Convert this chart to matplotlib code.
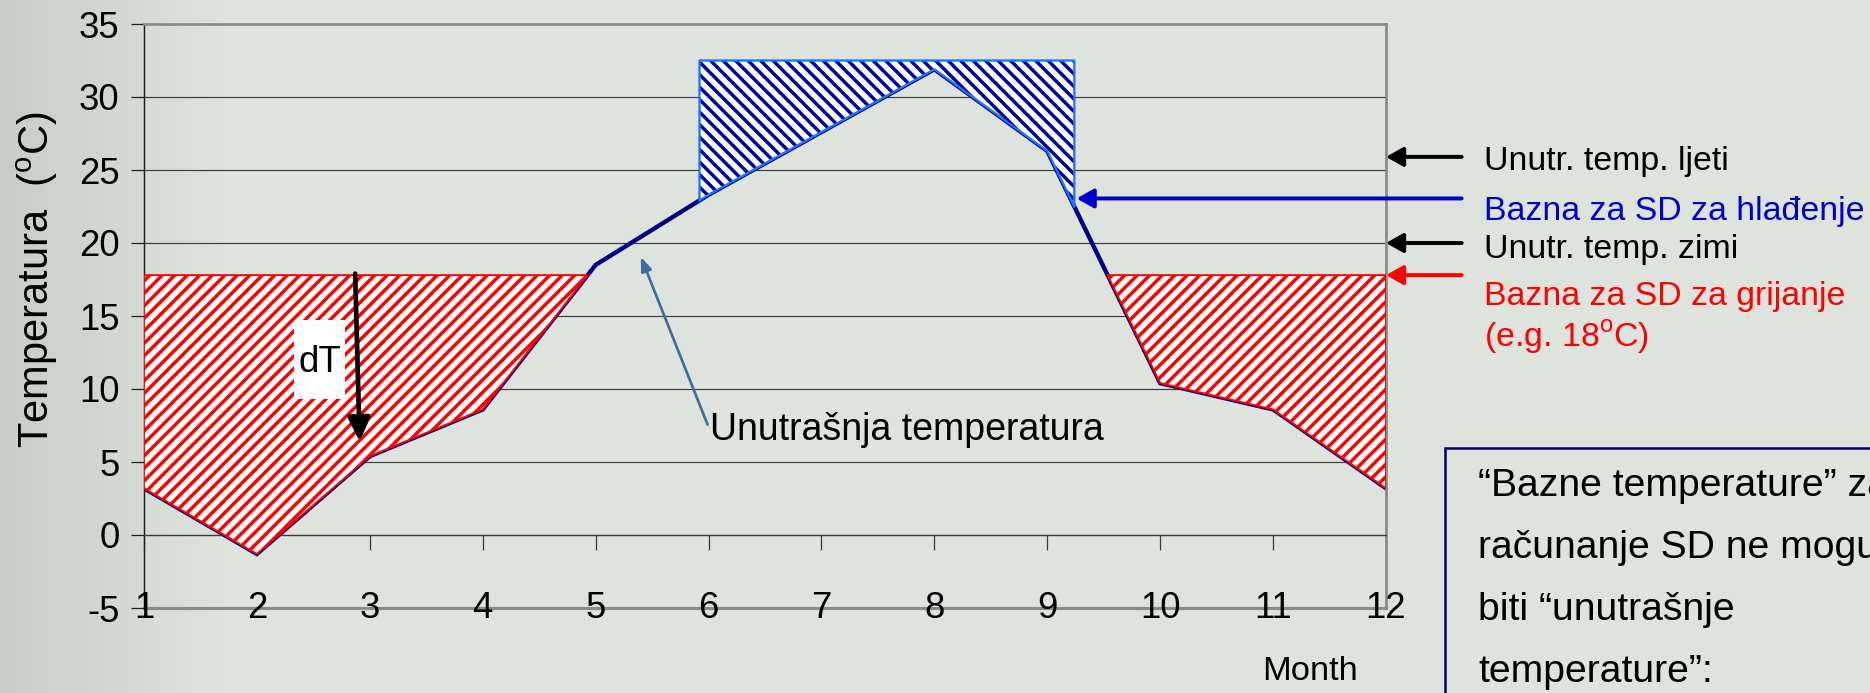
import numpy as np
import matplotlib
matplotlib.use('Agg')
import matplotlib.pyplot as plt
from matplotlib.patches import Rectangle

plt.rcParams['font.family'] = ['Liberation Sans', 'DejaVu Sans']
plt.rcParams['hatch.linewidth'] = 3.3
plt.rcParams['axes.unicode_minus'] = False
plt.rcParams['mathtext.fontset'] = 'custom'
plt.rcParams['mathtext.rm'] = 'Liberation Sans'

# data
months = np.arange(1, 13)
t_out = [3.2, -1.3, 5.4, 8.6, 18.5, 23.3, 27.6, 31.9, 26.3, 10.4, 8.6, 3.2]
heat_base = 17.8
cool_top = 32.5
cool_start, cool_end = 5.92, 9.24
summer_in = 25.9
winter_in = 20.0
cool_base = 23.05

yticks = [-5, 0, 5, 10, 15, 20, 25, 30, 35]
side_labels = ['Unutr. temp. ljeti', 'Bazna za SD za hlađenje', 'Unutr. temp. zimi',
               'Bazna za SD za grijanje', '(e.g. 18$^\\mathregular{o}$C)']
box_lines = ['“Bazne temperature” za', 'računanje SD ne mogu', 'biti “unutrašnje', 'temperature”:']

DPI = 75
fig = plt.figure(figsize=(1870 / DPI, 693 / DPI), dpi=DPI)

# background gradient (darker on the left)
bg = fig.add_axes([0, 0, 1, 1], zorder=-10)
gx = np.clip(np.linspace(0, 1, 400) / 0.12, 0, 1)
c0 = np.array([200, 205, 200]) / 255
c1 = np.array([223, 227, 222]) / 255
grad = c0[None, :] + (c1 - c0)[None, :] * gx[:, None]
bg.imshow(grad[None, :, :], aspect='auto', extent=[0, 1, 0, 1])
bg.axis('off')

ax = fig.add_axes([144 / 1870, 85 / 693, 1242 / 1870, 584 / 693])
ax.patch.set_alpha(0)
ax.set_xlim(1, 12)
ax.set_ylim(-5, 35)

# grid lines
for v in yticks[1:-1]:
    ax.axhline(v, color='#3a3a3a', lw=1.1, zorder=1)

x_fine = np.linspace(1, 12, 2201)
y_fine = np.interp(x_fine, months, t_out)

ax.plot(months, t_out, color='#000080', lw=4.2, zorder=2, solid_joinstyle='miter')

# heating degree-days area
ax.fill_between(x_fine, y_fine, heat_base, where=y_fine <= heat_base, interpolate=True,
                facecolor='white', edgecolor='#ff0000', hatch='//', lw=1.8, zorder=3)

# cooling area
x_cool = np.linspace(cool_start, cool_end, 400)
y_cool = np.interp(x_cool, months, t_out)
ax.fill_between(x_cool, y_cool, cool_top, facecolor='white', edgecolor='#0000a0',
                hatch='\\\\', lw=0, zorder=3)
ax.fill_between(x_cool, y_cool, cool_top, facecolor='none', edgecolor='#1a78ff',
                lw=2.2, zorder=4)

# axes styling
for s in ['top', 'right']:
    ax.spines[s].set_color('#8a8a8a')
    ax.spines[s].set_linewidth(2.6)
ax.spines['left'].set_color('#202020')
ax.spines['left'].set_linewidth(1.4)
ax.spines['bottom'].set_position(('data', 0))
ax.spines['bottom'].set_color('#3a3a3a')
ax.spines['bottom'].set_linewidth(1.2)
ax.axhline(-5, color='#8a8a8a', lw=3, zorder=1, clip_on=False)

ax.set_yticks(yticks)
ax.set_xticks(months)
ax.tick_params(axis='y', direction='out', length=12.5, width=1.2, pad=11, labelsize=35, color='#202020')
ax.tick_params(axis='x', direction='out', length=14, width=1.2, labelbottom=False, color='#3a3a3a')
for m in months:
    ax.text(m, -5, str(m), ha='center', va='center', fontsize=35, zorder=6)

ax.set_ylabel('Temperatura  ($^\\mathregular{o}$C)', fontsize=40)
ax.yaxis.set_label_coords(-0.068, 0.562)

# dT arrow + label on a white card
ax.add_patch(Rectangle((2.33, 9.33), 0.45, 5.4, facecolor='white', edgecolor='none', zorder=5))
ax.text(2.555, 11.8, 'dT', ha='center', va='center', fontsize=35, zorder=6)
ax.annotate('', xy=(2.91, 6.4), xytext=(2.87, 17.9),
            arrowprops=dict(arrowstyle='-|>,head_width=0.45,head_length=0.95', color='black',
                            lw=4.5, mutation_scale=20, shrinkA=0, shrinkB=0), zorder=7)

# inner temperature pointer
ax.annotate('Unutrašnja temperatura', xy=(5.40, 19.06), xytext=(6.01, 7.2),
            ha='left', va='center', fontsize=36,
            arrowprops=dict(arrowstyle='-|>,head_width=0.3,head_length=0.8', color='#3c6ea0',
                            lw=2.6, mutation_scale=14, shrinkA=0, shrinkB=0,
                            relpos=(0, 0.5)))

# side arrows
arrow_x0 = 12.67
for yv, col, tip in [(summer_in, 'black', 12.0), (winter_in, 'black', 12.0),
                     (heat_base, '#ff0000', 12.0), (cool_base, '#0000cc', 9.26)]:
    ax.annotate('', xy=(tip, yv), xytext=(arrow_x0, yv), annotation_clip=False,
                arrowprops=dict(arrowstyle='-|>,head_width=0.45,head_length=0.8', color=col,
                                lw=3.8, mutation_scale=17, shrinkA=0, shrinkB=0), zorder=8)

side_y = [170, 220, 258, 305, 347]
side_col = ['black', '#0000cc', 'black', '#ff0000', '#ff0000']
for lab, yp, col in zip(side_labels, side_y, side_col):
    fig.text(1484 / 1870, (693 - yp) / 693, lab, color=col, fontsize=32.5, va='baseline', ha='left')

fig.text(1310 / 1870, (693 - 671) / 693, 'Month', fontsize=33, ha='center', va='center')

# note box (runs off the edge)
fig.patches.append(Rectangle((1445 / 1870, -0.1), 0.4, (693 - 448) / 693 + 0.1,
                             transform=fig.transFigure, facecolor='none',
                             edgecolor='#000066', lw=2.4))
for i, line in enumerate(box_lines):
    fig.text(1478 / 1870, (693 - (496 + 62 * i)) / 693, line, fontsize=37.5,
             va='baseline', ha='left')

fig.savefig('out.png', dpi=DPI)
